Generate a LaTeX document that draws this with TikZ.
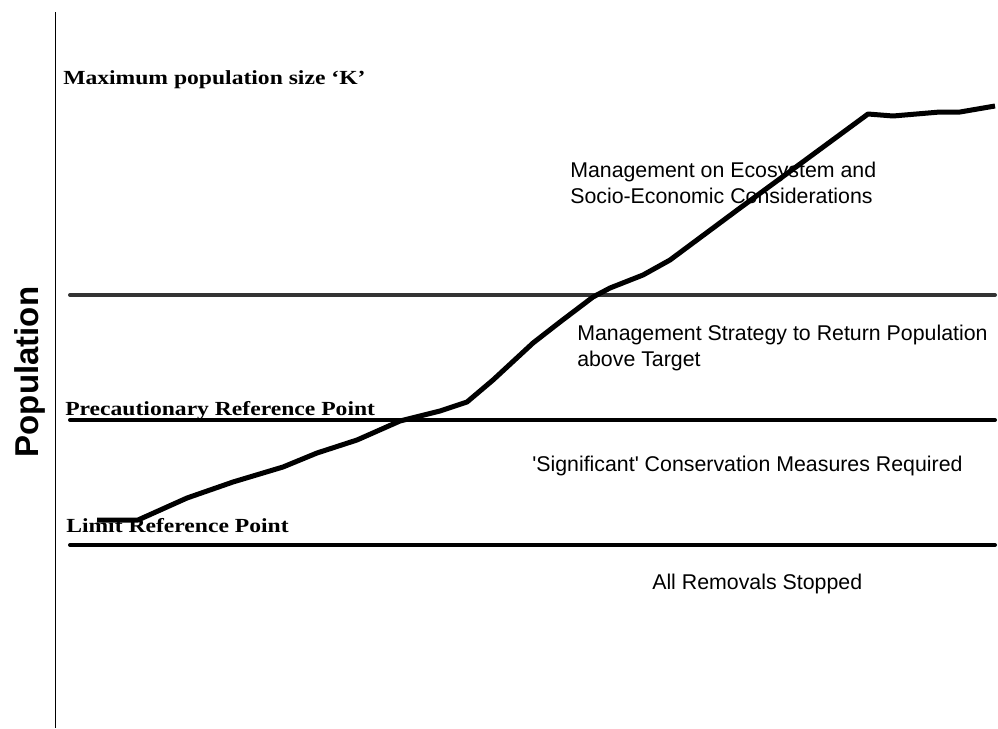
\documentclass[tikz,border=0pt]{standalone}
\usepackage{fontspec}
\setmainfont{Liberation Sans}
\newfontfamily\levelfont[FakeStretch=1.18]{Liberation Serif}
\usetikzlibrary{positioning}

\begin{document}
\begin{tikzpicture}[x=0.75pt, y=-0.75pt,
  level/.style={line width=3pt, line cap=round},
  levellabel/.style={anchor=base west, inner sep=0pt,
    font=\levelfont\bfseries\fontsize{15}{18}\selectfont},
  zone/.style={anchor=base west, inner sep=0pt, align=left,
    font=\fontsize{16}{19.5}\selectfont}]
  \useasboundingbox (0,0) rectangle (998,728);

  % axis
  \coordinate (axistop) at (55,12);
  \coordinate (axisbottom) at (55,728);
  \draw[line width=0.75pt] (axistop) -- (axisbottom);
  \node[rotate=90, anchor=base, inner sep=0pt,
    font=\bfseries\fontsize{24.75}{28}\selectfont] (ylabel) at (38,372) {Population};

  % reference levels
  \coordinate (targetL) at (70,295);
  \coordinate (targetR) at (995,295);
  \coordinate (precL) at (70,420);
  \coordinate (precR) at (995,420);
  \coordinate (limitL) at (70,545);
  \coordinate (limitR) at (995,545);
  \draw[level, black!80] (targetL) -- (targetR);
  \draw[level] (precL) -- (precR);
  \draw[level] (limitL) -- (limitR);

  \node[levellabel] (kmax) at (63,84) {Maximum population size ‘K’};
  \node[levellabel] (prec) at (65,415) {Precautionary Reference Point};
  \node[levellabel] (limit) at (66,532) {Limit Reference Point};

  % population trajectory
  \draw[line width=3.75pt, line join=round] plot coordinates {
    (97,520) (138,520) (187,498) (233,482) (283,467) (317,453) (357,440)
    (400,421) (440,411) (467,402) (493,380) (533,343) (560,322) (593,297)
    (610,288) (643,275) (670,260) (740,208) (800,164) (868,114) (893,116)
    (940,112) (960,112) (995,106)};

  % management zones (base = last line)
  \node[zone] (ecosystem) at (570,203)
    {Management on Ecosystem and\\Socio-Economic Considerations};
  \node[zone] (strategy) at (577,366)
    {Management Strategy to Return Population\\above Target};
  \node[zone] (conservation) at (532,471)
    {\textquotesingle Significant\textquotesingle{} Conservation Measures Required};
  \node[zone] (stopped) at (652,589) {All Removals Stopped};
\end{tikzpicture}
\end{document}
